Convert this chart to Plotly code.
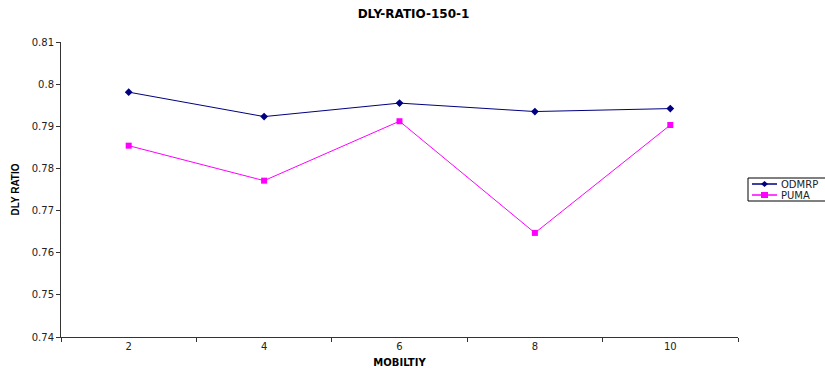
import plotly.graph_objects as go

mobility = ["2", "4", "6", "8", "10"]
odmrp = [0.7981, 0.7923, 0.7955, 0.7935, 0.7942]
puma = [0.7854, 0.7771, 0.7912, 0.7647, 0.7903]
y_ticks = [0.74, 0.75, 0.76, 0.77, 0.78, 0.79, 0.80, 0.81]
y_tick_text = ["0.74", "0.75", "0.76", "0.77", "0.78", "0.79", "0.8", "0.81"]
series_names = ["ODMRP", "PUMA"]
series_colors = ["#000080", "#FF00FF"]

W, H = 825, 370
ML, MR, MT, MB = 61, 87, 42, 33
PW, PH = W - ML - MR, H - MT - MB

FONT = "DejaVu Sans, Verdana, sans-serif"
TEXT = "#222222"


def px_x(px):
    """Pixel column -> paper x."""
    return (px - ML) / PW


def px_y(py):
    """Pixel row -> paper y."""
    return (H - MB - py) / PH


fig = go.Figure()
fig.add_trace(go.Scatter(
    x=mobility, y=odmrp, name=series_names[0], mode="lines+markers",
    line=dict(color=series_colors[0], width=1),
    marker=dict(symbol="diamond", size=6, color=series_colors[0]),
))
fig.add_trace(go.Scatter(
    x=mobility, y=puma, name=series_names[1], mode="lines+markers",
    line=dict(color=series_colors[1], width=1),
    marker=dict(symbol="square", size=6, color=series_colors[1]),
))

# Compact boxed legend on the right
shapes = [dict(type="rect", xref="paper", yref="paper",
               x0=px_x(748), x1=px_x(827), y0=px_y(201), y1=px_y(178),
               line=dict(color="#000000", width=1), fillcolor="white", layer="above")]
annotations = []
rows = [184, 195]
for name, color, row, sym in zip(series_names, series_colors, rows, ["diamond", "square"]):
    shapes.append(dict(type="line", xref="paper", yref="paper",
                       x0=px_x(752), x1=px_x(777), y0=px_y(row), y1=px_y(row),
                       line=dict(color=color, width=1.5), layer="above"))
    cx, cy = 764.5, row
    if sym == "diamond":
        path = "M {} {} L {} {} L {} {} L {} {} Z".format(
            px_x(cx - 3.5), px_y(cy), px_x(cx), px_y(cy - 3),
            px_x(cx + 3.5), px_y(cy), px_x(cx), px_y(cy + 3))
    else:
        path = "M {} {} L {} {} L {} {} L {} {} Z".format(
            px_x(cx - 3.5), px_y(cy - 3), px_x(cx + 3.5), px_y(cy - 3),
            px_x(cx + 3.5), px_y(cy + 3), px_x(cx - 3.5), px_y(cy + 3))
    shapes.append(dict(type="path", xref="paper", yref="paper", path=path,
                       fillcolor=color, line=dict(color=color, width=0), layer="above"))
    annotations.append(dict(xref="paper", yref="paper", x=px_x(779), y=px_y(row),
                            xanchor="left", yanchor="middle", showarrow=False,
                            text=name, font=dict(family=FONT, size=10, color=TEXT)))

fig.update_layout(
    width=W, height=H,
    margin=dict(l=ML, r=MR, t=MT, b=MB, autoexpand=False),
    paper_bgcolor="white", plot_bgcolor="white",
    font=dict(family=FONT, size=10, color=TEXT),
    title=dict(text="<b>DLY-RATIO-150-1</b>", x=(356 + 471) / 2 / W, xanchor="center",
               y=1 - 14 / H, yanchor="middle",
               font=dict(family=FONT, size=12, color="#000000")),
    showlegend=False,
    shapes=shapes,
    annotations=annotations,
    xaxis=dict(
        type="category", range=[-0.5, 4.5], automargin=False,
        tickson="boundaries", ticks="outside", ticklen=4, tickcolor="#333333",
        showline=True, linecolor="#333333", linewidth=1,
        showgrid=False, zeroline=False,
        tickfont=dict(family=FONT, size=10, color=TEXT),
        title=dict(text="<b>MOBILTIY</b>", standoff=7,
                   font=dict(family=FONT, size=10, color="#000000")),
    ),
    yaxis=dict(
        range=[0.74, 0.81], tickvals=y_ticks, ticktext=y_tick_text, automargin=False,
        ticks="outside", ticklen=4, tickcolor="#333333",
        showline=True, linecolor="#333333", linewidth=1,
        showgrid=False, zeroline=False,
        tickfont=dict(family=FONT, size=10, color=TEXT),
        title=dict(text="<b>DLY RATIO</b>", standoff=10,
                   font=dict(family="Liberation Sans, Arial, sans-serif", size=10, color="#000000")),
    ),
)

fig.write_html("out.html")
